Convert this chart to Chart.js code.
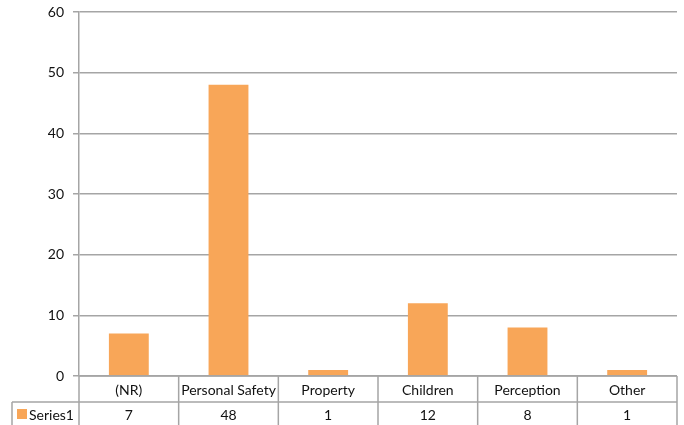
<!DOCTYPE html>
<html>
<head>
<meta charset="utf-8">
<script src="https://cdn.jsdelivr.net/npm/chart.js@4"></script>
<style>
  html, body { margin: 0; padding: 0; background: #fff; }
  #wrap { width: 684px; height: 425px; position: relative; }
</style>
</head>
<body>
<div id="wrap"><canvas id="chart"></canvas></div>
<script>
const categories = ['(NR)', 'Personal Safety', 'Property', 'Children', 'Perception', 'Other'];
const series1 = [7, 48, 1, 12, 8, 1];
const seriesName = 'Series1';
const yTicks = [0, 10, 20, 30, 40, 50, 60];

const FONT = 'Lato, "Open Sans", sans-serif';
const GRID = '#a5a5a5';
const BAR = '#F8A658';

// draws the data table under the plot (category row + values row)
const dataTable = {
    id: 'dataTable',
    afterDraw(chart) {
        const { ctx, chartArea } = chart;
        const x = chart.scales.x;
        const top = chartArea.bottom;
        const row1 = top + 26;
        const row2 = row1 + 28;
        const legendLeft = 12;
        const n = categories.length;
        const step = x.getPixelForValue(1) - x.getPixelForValue(0);
        const edges = [];
        for (let i = 0; i <= n; i++) {
            edges.push(i === n ? chartArea.right : x.getPixelForValue(i) - step / 2);
        }
        ctx.save();
        ctx.strokeStyle = GRID;
        ctx.lineWidth = 1.5;
        ctx.beginPath();
        ctx.moveTo(chartArea.left, top); ctx.lineTo(chartArea.right, top);
        ctx.moveTo(legendLeft, row1); ctx.lineTo(chartArea.right, row1);
        ctx.moveTo(legendLeft, row2); ctx.lineTo(chartArea.right, row2);
        edges.forEach(e => { ctx.moveTo(e, top); ctx.lineTo(e, row2); });
        ctx.moveTo(legendLeft, row1); ctx.lineTo(legendLeft, row2);
        ctx.stroke();

        ctx.fillStyle = '#111';
        ctx.font = '14px ' + FONT;
        ctx.textAlign = 'center';
        ctx.textBaseline = 'middle';
        for (let i = 0; i < n; i++) {
            const cx = (edges[i] + edges[i + 1]) / 2;
            ctx.fillText(categories[i], cx, top + 14);
            ctx.fillText(String(series1[i]), cx, row1 + 13);
        }
        // legend key
        ctx.fillStyle = BAR;
        ctx.fillRect(legendLeft + 5, row1 + 7, 10, 10);
        ctx.fillStyle = '#111';
        ctx.textAlign = 'left';
        ctx.fillText(seriesName, legendLeft + 17, row1 + 13);
        ctx.restore();
    }
};

new Chart(document.getElementById('chart'), {
    type: 'bar',
    data: {
        labels: categories,
        datasets: [{
            label: seriesName,
            data: series1,
            backgroundColor: BAR,
            borderWidth: 0,
            categoryPercentage: 1,
            barPercentage: 0.4
        }]
    },
    options: {
        responsive: true,
        maintainAspectRatio: false,
        animation: false,
        layout: { padding: { left: 0, right: 7, top: 12, bottom: 49 } },
        plugins: { legend: { display: false }, tooltip: { enabled: false } },
        scales: {
            x: { display: false },
            y: {
                min: 0,
                max: 60,
                afterBuildTicks: s => { s.ticks = yTicks.map(v => ({ value: v })); },
                afterFit: s => { s.width = 79; s.paddingTop = 0; s.paddingBottom = 0; },
                grid: { color: GRID, lineWidth: 1.5, tickLength: 6 },
                border: { color: GRID, width: 1.5 },
                ticks: { color: '#111', font: { family: FONT, size: 14 }, padding: 9 }
            }
        }
    },
    plugins: [dataTable]
});
</script>
</body>
</html>
